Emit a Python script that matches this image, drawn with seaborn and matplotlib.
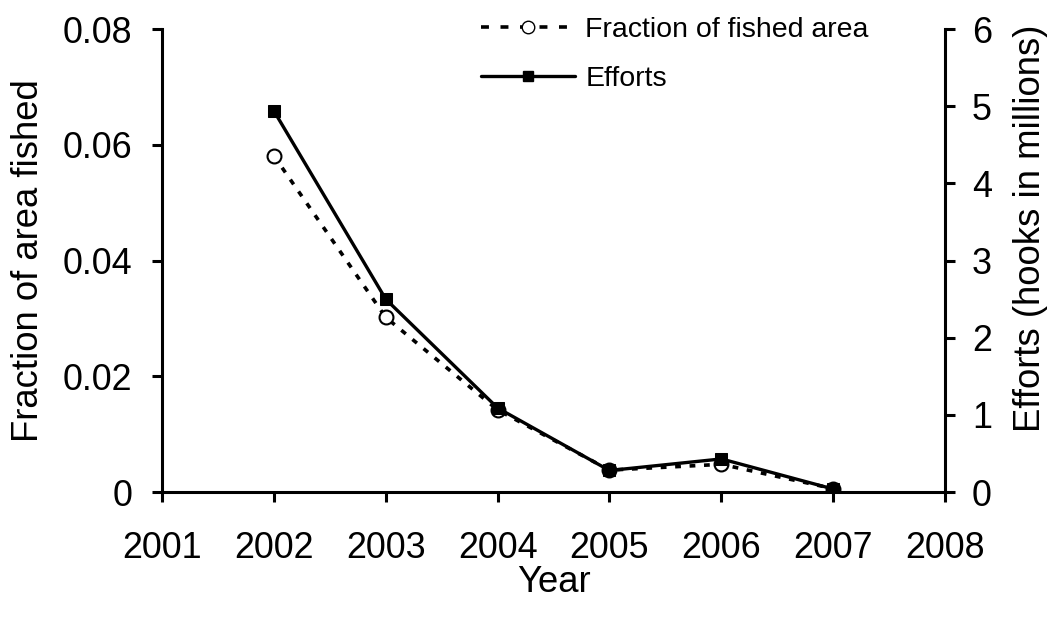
import matplotlib
matplotlib.use("Agg")
import matplotlib.pyplot as plt
import seaborn as sns
import pandas as pd
from matplotlib.lines import Line2D

# data
years = [2002, 2003, 2004, 2005, 2006, 2007]
fraction_fished = [0.0581, 0.0302, 0.0142, 0.0038, 0.0048, 0.0006]
efforts_millions = [4.94, 2.50, 1.09, 0.28, 0.43, 0.04]
x_ticks = [2001, 2002, 2003, 2004, 2005, 2006, 2007, 2008]
left_ticks = [0, 0.02, 0.04, 0.06, 0.08]
left_labels = ["0", "0.02", "0.04", "0.06", "0.08"]
right_ticks = [0, 1, 2, 3, 4, 5, 6]

sns.set_style("ticks")
plt.rcParams["font.family"] = ["Liberation Sans", "DejaVu Sans"]
for key in ["text.color", "axes.labelcolor", "xtick.color", "ytick.color", "axes.edgecolor"]:
    plt.rcParams[key] = "black"

df = pd.DataFrame({"year": years, "fraction": fraction_fished, "efforts": efforts_millions})

fig = plt.figure(figsize=(10.48, 6.19), dpi=100)
ax = fig.add_axes([0.1546, 0.205, 0.7472, 0.748])
ax2 = ax.twinx()

dash = (0, (1.6, 2.4))
sns.lineplot(data=df, x="year", y="fraction", ax=ax, color="black", lw=2.6,
             marker="o", markersize=10, markerfacecolor="white",
             markeredgecolor="black", markeredgewidth=1.5, linestyle=dash)
sns.lineplot(data=df, x="year", y="efforts", ax=ax2, color="black", lw=2.4,
             marker="s", markersize=8, markerfacecolor="black",
             markeredgecolor="black")

ax.set_xlim(2001, 2008)
ax.set_ylim(0, 0.08)
ax2.set_ylim(0, 6)
ax.set_xticks(x_ticks)
ax.set_yticks(left_ticks)
ax.set_yticklabels(left_labels)
ax2.set_yticks(right_ticks)

ax.set_xlabel("Year", fontsize=26.3, labelpad=-1)
ax.set_ylabel("Fraction of area fished", fontsize=26.3, labelpad=12)
ax2.set_ylabel("Efforts (hooks in millions)", fontsize=26.3, labelpad=15)
ax2.yaxis.label.set_y(0.57)

for a in (ax, ax2):
    a.tick_params(labelsize=25.8, width=2.2, length=7.2, direction="out")
    a.spines["top"].set_visible(False)
    for s in a.spines.values():
        s.set_linewidth(2.2)
ax.tick_params(axis="y", pad=14)
ax.tick_params(axis="x", pad=21)
ax2.tick_params(axis="y", pad=12)
ax.spines["right"].set_visible(False)
ax2.spines["left"].set_visible(False)
ax2.spines["bottom"].set_visible(False)

handles = [
    Line2D([], [], color="black", lw=2.6, linestyle=(0, (2.2, 3.2)), marker="o",
           markersize=9, markerfacecolor="white", markeredgecolor="black"),
    Line2D([], [], color="black", lw=2.4, marker="s", markersize=7,
           markerfacecolor="black"),
]
ax.legend(handles, ["Fraction of fished area", "Efforts"], loc="upper left",
          bbox_to_anchor=(0.374, 1.082), frameon=False, fontsize=20.5,
          handlelength=3.33, handletextpad=0.35, labelspacing=0.8)

fig.savefig("out.png", dpi=100)
